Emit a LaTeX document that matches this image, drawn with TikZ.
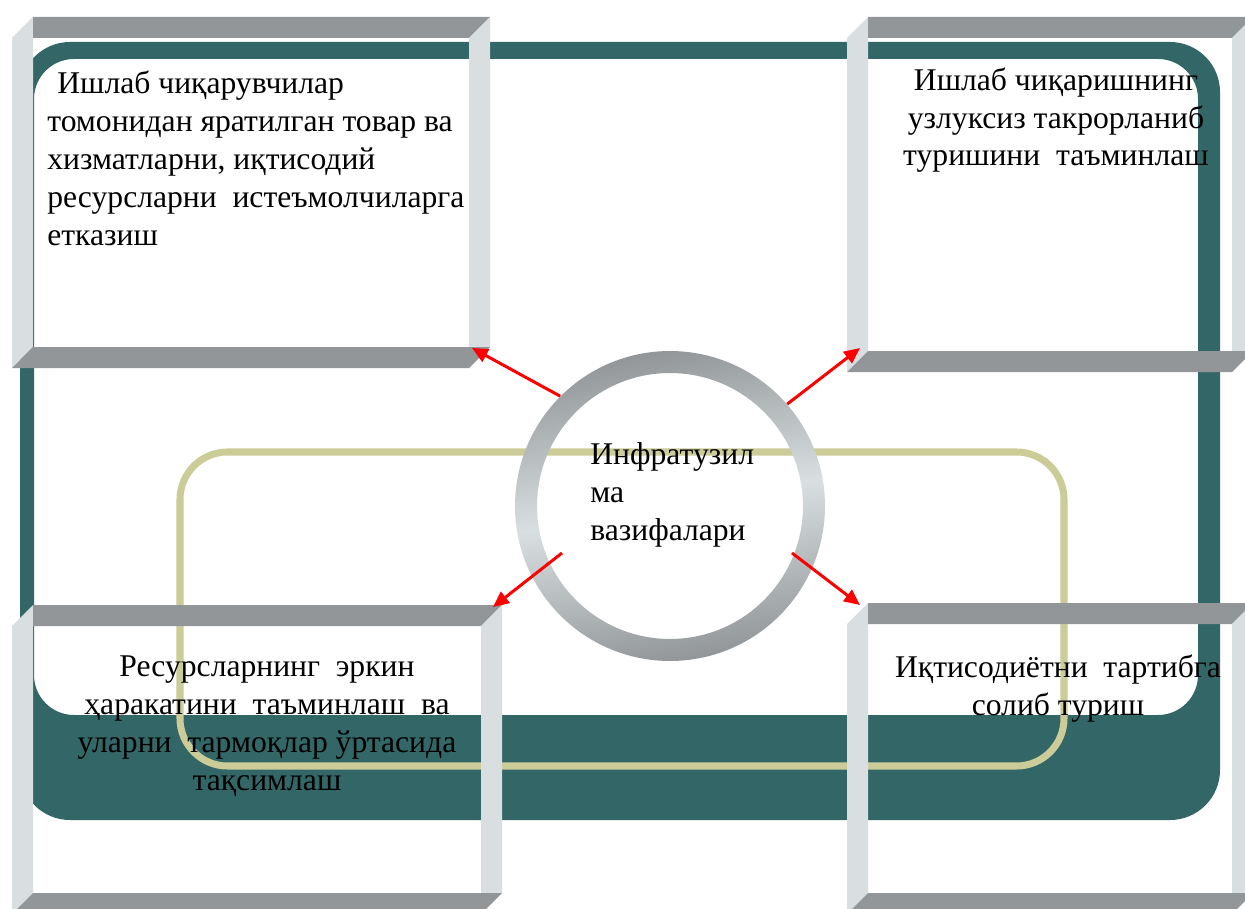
\documentclass[tikz,border=0pt]{standalone}
\usepackage{fontspec}
\setmainfont{Liberation Serif}
\usetikzlibrary{arrows.meta}

\definecolor{deepteal}{HTML}{336666}
\definecolor{pale khaki}{HTML}{CCCC99}
\definecolor{bar dark}{HTML}{929698}
\definecolor{bar light}{HTML}{D9DFE0}

\tikzset{every picture/.style={x=0.02cm,y=-0.02cm}}
\tikzset{box text/.style={font=\fontsize{18}{21.5}\selectfont, inner sep=0pt}}
\tikzset{red push/.style={draw=red, line width=1.7pt, -{Triangle[length=9pt,width=8pt]}}}
% bevelled frame: x0 y0 x1 y1
\newcommand{\bevel}[4]{
    \fill[bar light] (#1,#2+21) -- (#1+21,#2) -- (#1+21,#4-21) -- (#1,#4) -- cycle;
    \fill[bar dark] (#1+21,#2) -- (#3,#2) -- (#3-21,#2+21) -- (#1+21,#2+21) -- cycle;
    \fill[bar light] (#3-21,#2+21) -- (#3,#2) -- (#3,#4-21) -- (#3-21,#4-21) -- cycle;
    \fill[bar dark] (#1,#4) -- (#1+21,#4-21) -- (#3,#4-21) -- (#3-21,#4) -- cycle;
}

\begin{document}
\begin{tikzpicture}
    \clip (0,0) rectangle (1245,909);
    \fill[white] (0,0) rectangle (1245,909);
    \fill[deepteal, even odd rule] (20,42) [rounded corners=1cm] rectangle (1220,820)
        (34,59) [rounded corners=0.8cm] rectangle (1198,715);
    \draw[pale khaki, line width=4pt, rounded corners=0.95cm] (180,452) rectangle (1064,766);

    \bevel{12}{17}{490}{368}
    \bevel{847}{17}{1253}{372}
    \bevel{12}{605}{502}{914}
    \bevel{847}{603}{1253}{914}

    \node[circle, minimum size=6.2cm, inner sep=0pt] (hub) at (670,506) {};
    \shade[even odd rule, top color=bar dark, bottom color=bar dark, middle color=bar light, shading angle=10]
        (hub.center) circle[radius=3.1cm] (hub.center) circle[radius=2.66cm];
    \node[box text, align=left, anchor=base west] (hubtext) at (590,540) {Инфратузил\\ма\\вазифалари};

    \node[box text, align=left, anchor=base west] (produce) at (47,245)
        {\hspace*{0.2cm}Ишлаб чиқарувчилар\\томонидан яратилган товар ва\\хизматларни, иқтисодий\\ресурсларни\ \ истеъмолчиларга\\етказиш};
    \node[box text, align=center, anchor=base] (repeat) at (1056,166)
        {Ишлаб чиқаришнинг\\узлуксиз такрорланиб\\туришини\ \ таъминлаш};
    \node[box text, align=center, anchor=base] (flow) at (267,790)
        {Ресурсларнинг\ \ эркин\\ҳаракатини\ \ таъминлаш\ \ ва\\уларни\ \ тармоқлар ўртасида\\тақсимлаш};
    \node[box text, align=center, anchor=base] (order) at (1058,715)
        {Иқтисодиётни\ \ тартибга\\солиб туриш};

    \coordinate (tl tip) at (472,348);
    \coordinate (tr tip) at (860,348);
    \coordinate (bl tip) at (493,607);
    \coordinate (br tip) at (860,605);
    \coordinate (bl from) at (562,553);
    \coordinate (br from) at (792,553);
    \draw[red push] (hub.135) -- (tl tip);
    \draw[red push] (hub.41) -- (tr tip);
    \draw[red push] (bl from) -- (bl tip);
    \draw[red push] (br from) -- (br tip);
\end{tikzpicture}
\end{document}
